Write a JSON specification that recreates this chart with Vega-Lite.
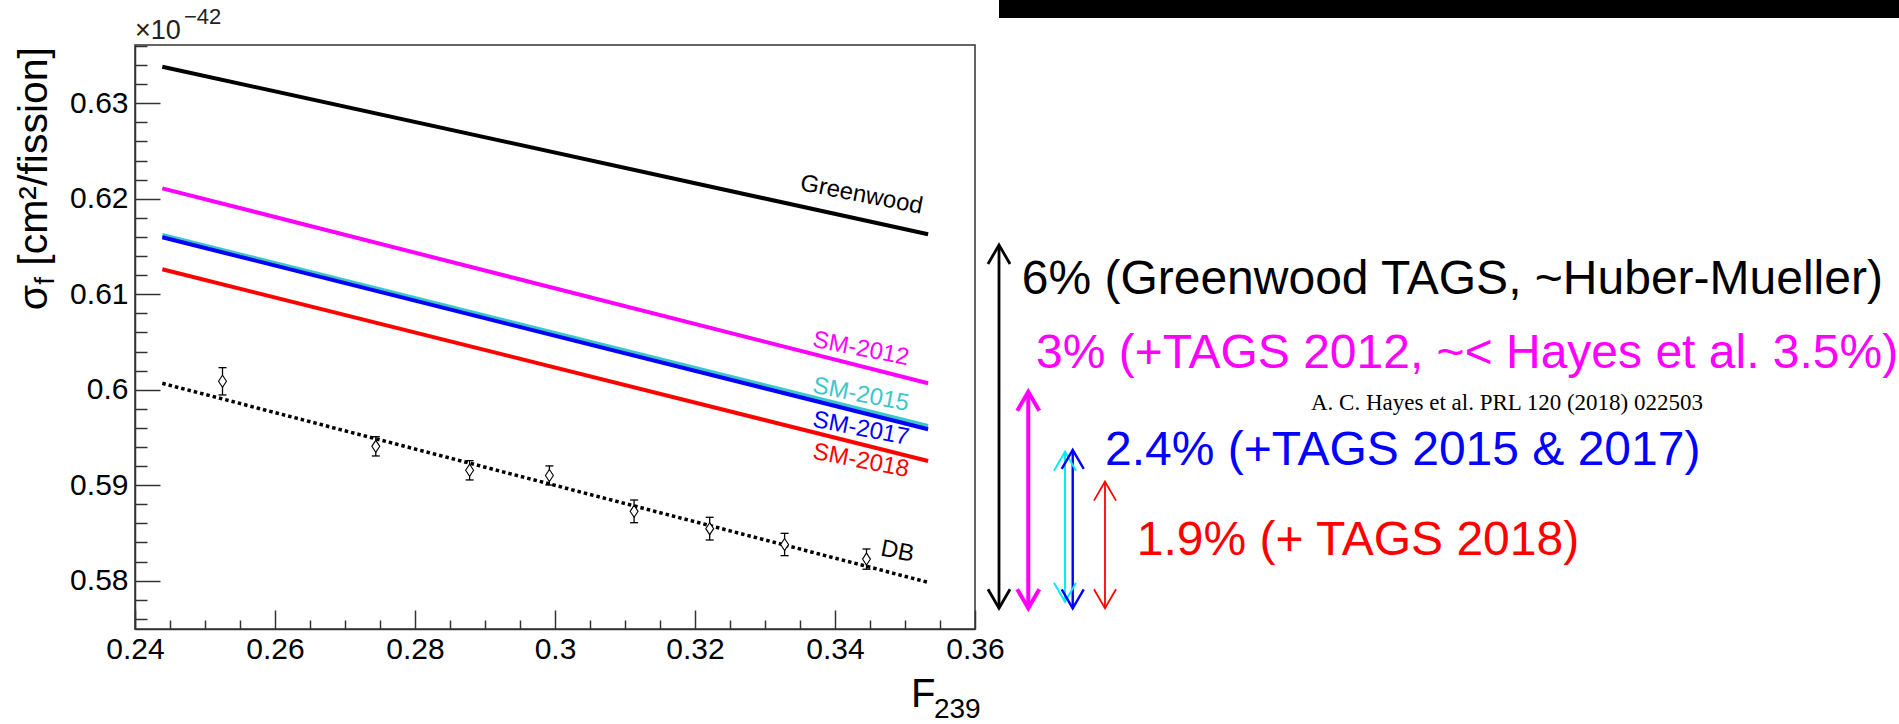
{
  "$schema": "https://vega.github.io/schema/vega-lite/v6.json",
  "width": 840,
  "height": 584,
  "autosize": {"type": "none"},
  "padding": {"left": 135, "top": 45, "right": 924, "bottom": 95},
  "background": "white",
  "config": {
    "view": {"stroke": "#333333", "strokeWidth": 1.5},
    "font": "Liberation Sans"
  },
  "datasets": {
    "curves": [
      {"model": "Greenwood", "F239": 0.2439, "sigma": 0.63383},
      {"model": "Greenwood", "F239": 0.3533, "sigma": 0.61628},
      {"model": "SM-2012", "F239": 0.2439, "sigma": 0.62109},
      {"model": "SM-2012", "F239": 0.3533, "sigma": 0.60067},
      {"model": "SM-2015", "F239": 0.2439, "sigma": 0.61620},
      {"model": "SM-2015", "F239": 0.3533, "sigma": 0.59620},
      {"model": "SM-2017", "F239": 0.2439, "sigma": 0.61596},
      {"model": "SM-2017", "F239": 0.3533, "sigma": 0.59586},
      {"model": "SM-2018", "F239": 0.2439, "sigma": 0.61261},
      {"model": "SM-2018", "F239": 0.3533, "sigma": 0.59254}
    ],
    "db": [
      {"F239": 0.2439, "sigma": 0.60067},
      {"F239": 0.3533, "sigma": 0.57983}
    ],
    "points": [
      {"F239": 0.2525, "sigma": 0.60088, "lo": 0.59945, "hi": 0.60231},
      {"F239": 0.2744, "sigma": 0.59407, "lo": 0.59306, "hi": 0.59508},
      {"F239": 0.2878, "sigma": 0.59156, "lo": 0.59055, "hi": 0.59257},
      {"F239": 0.2992, "sigma": 0.59102, "lo": 0.59002, "hi": 0.59202},
      {"F239": 0.3113, "sigma": 0.58726, "lo": 0.58607, "hi": 0.58845},
      {"F239": 0.3221, "sigma": 0.58545, "lo": 0.58426, "hi": 0.58664},
      {"F239": 0.3328, "sigma": 0.58379, "lo": 0.58262, "hi": 0.58496},
      {"F239": 0.3445, "sigma": 0.58226, "lo": 0.58120, "hi": 0.58332}
    ],
    "labels": [
      {"label": "Greenwood", "x": 0.34379, "y": 0.62039},
      {"label": "SM-2012", "x": 0.34371, "y": 0.60426},
      {"label": "SM-2015", "x": 0.34371, "y": 0.59945},
      {"label": "SM-2017", "x": 0.34371, "y": 0.59589},
      {"label": "SM-2018", "x": 0.34371, "y": 0.59254},
      {"label": "DB", "x": 0.34893, "y": 0.58304}
    ],
    "arrows": [
      {"arrow": "Greenwood", "x": 0.36343, "top": 0.61516, "bottom": 0.57711},
      {"arrow": "SM-2012", "x": 0.36761, "top": 0.59979, "bottom": 0.57711},
      {"arrow": "SM-2015", "x": 0.37286, "top": 0.59351, "bottom": 0.57780},
      {"arrow": "SM-2017", "x": 0.37396, "top": 0.59369, "bottom": 0.57711},
      {"arrow": "SM-2018", "x": 0.37857, "top": 0.59037, "bottom": 0.57711}
    ],
    "notes": [
      {"group": "Greenwood", "note": "6% (Greenwood TAGS, ~Huber-Mueller)", "x": 0.36667, "y": 0.6100},
      {"group": "SM-2012", "note": "3% (+TAGS 2012, ~< Hayes et al. 3.5%)", "x": 0.36871, "y": 0.60224},
      {"group": "SM-2017", "note": "2.4% (+TAGS 2015 & 2017)", "x": 0.37857, "y": 0.59212},
      {"group": "SM-2018", "note": "1.9% (+ TAGS 2018)", "x": 0.3831, "y": 0.58269}
    ],
    "texts": [
      {"id": "exp_base", "text": "×10", "x": 0.24, "y": 0.6367},
      {"id": "exp_pow", "text": "−42", "x": 0.24700, "y": 0.63830},
      {"id": "xtitle", "text": "F", "x": 0.35086, "y": 0.56680},
      {"id": "xsub", "text": "239", "x": 0.35414, "y": 0.56560},
      {"id": "ytitle", "text": "[cm²/fission]", "x": 0.22739, "y": 0.63589},
      {"id": "ysigma", "text": "σ", "x": 0.22739, "y": 0.61097},
      {"id": "ysub", "text": "f", "x": 0.22843, "y": 0.61180},
      {"id": "cite", "text": "A. C. Hayes et al. PRL 120 (2018) 022503", "x": 0.408, "y": 0.59788}
    ],
    "bar": [
      {"x": 0.36343, "x2": 0.5, "y": 0.63893, "y2": 0.645}
    ]
  },
  "resolve": {
    "scale": {"color": "independent", "strokeWidth": "independent"},
    "axis": {"x": "independent", "y": "independent"}
  },
  "layer": [
    {
      "data": {"name": "curves"},
      "mark": {"type": "line", "strokeWidth": 4},
      "encoding": {
        "x": {
          "field": "F239", "type": "quantitative",
          "scale": {"domain": [0.24, 0.36], "nice": false, "zero": false},
          "axis": {
            "orient": "bottom",
            "title": null,
            "grid": false,
            "values": [0.24, 0.26, 0.28, 0.3, 0.32, 0.34, 0.36],
            "format": "~g",
            "tickSize": -19,
            "labelPadding": 24,
            "labelFont": "Liberation Sans",
            "labelFontSize": 30,
            "labelColor": "black",
            "labelFlush": false,
            "labelOverlap": false,
            "labelBound": false,
            "tickColor": "#333333",
            "tickWidth": 1.5,
            "domainColor": "#333333",
            "domainWidth": 1.5
          }
        },
        "y": {
          "field": "sigma", "type": "quantitative",
          "scale": {"domain": [0.57494, 0.6361], "nice": false, "zero": false},
          "axis": {
            "orient": "left",
            "title": null,
            "grid": false,
            "values": [0.58, 0.59, 0.6, 0.61, 0.62, 0.63],
            "format": "~g",
            "tickSize": -25,
            "labelPadding": 32,
            "labelFont": "Liberation Sans",
            "labelFontSize": 30,
            "labelColor": "black",
            "labelFlush": false,
            "labelOverlap": false,
            "labelBound": false,
            "tickColor": "#333333",
            "tickWidth": 1.5,
            "domainColor": "#333333",
            "domainWidth": 1.5
          }
        },
        "color": {
          "field": "model", "type": "nominal", "legend": null,
          "scale": {"domain": ["Greenwood", "SM-2012", "SM-2015", "SM-2017", "SM-2018"], "range": ["#000000", "#ff00ff", "#3cc8c8", "#0000ff", "#ff0000"]}
        }
      }
    },
    {
      "data": {"name": "db"},
      "mark": {"type": "line", "strokeWidth": 3.5, "strokeDash": [3.5, 3], "color": "black"},
      "encoding": {
        "x": {
          "field": "F239", "type": "quantitative",
          "axis": {
            "orient": "bottom",
            "title": null,
            "grid": false,
            "labels": false,
            "domain": false,
            "values": [0.245,0.25,0.255,0.265,0.27,0.275,0.285,0.29,0.295,0.305,0.31,0.315,0.325,0.33,0.335,0.345,0.35,0.355],
            "tickSize": -9,
            "tickColor": "#333333",
            "tickWidth": 1.5
          }
        },
        "y": {
          "field": "sigma", "type": "quantitative",
          "axis": {
            "orient": "left",
            "title": null,
            "grid": false,
            "labels": false,
            "domain": false,
            "values": [0.576,0.578,0.582,0.584,0.586,0.588,0.592,0.594,0.596,0.598,0.602,0.604,0.606,0.608,0.612,0.614,0.616,0.618,0.622,0.624,0.626,0.628,0.632,0.634,0.636],
            "tickSize": -12,
            "tickColor": "#333333",
            "tickWidth": 1.5
          }
        }
      }
    },
    {
      "data": {"name": "points"},
      "mark": {"type": "rule", "color": "black", "strokeWidth": 1.3},
      "encoding": {
        "x": {"field": "F239", "type": "quantitative", "axis": null},
        "y": {"field": "lo", "type": "quantitative", "axis": null},
        "y2": {"field": "hi"}
      }
    },
    {
      "data": {"name": "points"},
      "mark": {"type": "tick", "orient": "horizontal", "color": "black", "size": 8, "thickness": 1.3, "opacity": 1},
      "encoding": {
        "x": {"field": "F239", "type": "quantitative", "axis": null},
        "y": {"field": "lo", "type": "quantitative", "axis": null}
      }
    },
    {
      "data": {"name": "points"},
      "mark": {"type": "tick", "orient": "horizontal", "color": "black", "size": 8, "thickness": 1.3, "opacity": 1},
      "encoding": {
        "x": {"field": "F239", "type": "quantitative", "axis": null},
        "y": {"field": "hi", "type": "quantitative", "axis": null}
      }
    },
    {
      "data": {"name": "points"},
      "mark": {"type": "point", "shape": "M0,-1L0.66,0L0,1L-0.66,0Z", "size": 144, "fill": "white", "stroke": "black", "strokeWidth": 1.1, "opacity": 1},
      "encoding": {
        "x": {"field": "F239", "type": "quantitative", "axis": null},
        "y": {"field": "sigma", "type": "quantitative", "axis": null}
      }
    },
    {
      "data": {"name": "labels"},
      "mark": {"type": "text", "angle": 11, "fontSize": 24, "font": "Liberation Sans", "align": "center", "baseline": "middle"},
      "encoding": {
        "x": {"field": "x", "type": "quantitative", "axis": null},
        "y": {"field": "y", "type": "quantitative", "axis": null},
        "text": {"field": "label"},
        "color": {
          "field": "label", "type": "nominal", "legend": null,
          "scale": {"domain": ["Greenwood", "SM-2012", "SM-2015", "SM-2017", "SM-2018", "DB"], "range": ["#000000", "#ff00ff", "#3cc8c8", "#0000ff", "#ff0000", "#000000"]}
        }
      }
    },
    {
      "data": {"name": "arrows"},
      "mark": {"type": "rule"},
      "encoding": {
        "x": {"field": "x", "type": "quantitative", "axis": null},
        "y": {"field": "bottom", "type": "quantitative", "axis": null},
        "y2": {"field": "top"},
        "color": {
          "field": "arrow", "type": "nominal", "legend": null,
          "scale": {"domain": ["Greenwood", "SM-2012", "SM-2015", "SM-2017", "SM-2018"], "range": ["#000000", "#ff00ff", "#00eeee", "#0000ff", "#ff0000"]}
        },
        "strokeWidth": {
          "field": "arrow", "type": "nominal", "legend": null,
          "scale": {"type": "ordinal", "domain": ["Greenwood", "SM-2012", "SM-2015", "SM-2017", "SM-2018"], "range": [2.8, 4, 2, 2.4, 1.8]}
        }
      }
    },
    {
      "data": {"name": "arrows"},
      "mark": {"type": "point", "shape": "M-0.58,1L0,0L0.58,1", "size": 1444, "filled": false, "opacity": 1},
      "encoding": {
        "x": {"field": "x", "type": "quantitative", "axis": null},
        "y": {"field": "top", "type": "quantitative", "axis": null},
        "color": {
          "field": "arrow", "type": "nominal", "legend": null,
          "scale": {"domain": ["Greenwood", "SM-2012", "SM-2015", "SM-2017", "SM-2018"], "range": ["#000000", "#ff00ff", "#00eeee", "#0000ff", "#ff0000"]}
        },
        "strokeWidth": {
          "field": "arrow", "type": "nominal", "legend": null,
          "scale": {"type": "ordinal", "domain": ["Greenwood", "SM-2012", "SM-2015", "SM-2017", "SM-2018"], "range": [2.8, 4, 2, 2.4, 1.8]}
        }
      }
    },
    {
      "data": {"name": "arrows"},
      "mark": {"type": "point", "shape": "M-0.58,-1L0,0L0.58,-1", "size": 1444, "filled": false, "opacity": 1},
      "encoding": {
        "x": {"field": "x", "type": "quantitative", "axis": null},
        "y": {"field": "bottom", "type": "quantitative", "axis": null},
        "color": {
          "field": "arrow", "type": "nominal", "legend": null,
          "scale": {"domain": ["Greenwood", "SM-2012", "SM-2015", "SM-2017", "SM-2018"], "range": ["#000000", "#ff00ff", "#00eeee", "#0000ff", "#ff0000"]}
        },
        "strokeWidth": {
          "field": "arrow", "type": "nominal", "legend": null,
          "scale": {"type": "ordinal", "domain": ["Greenwood", "SM-2012", "SM-2015", "SM-2017", "SM-2018"], "range": [2.8, 4, 2, 2.4, 1.8]}
        }
      }
    },
    {
      "data": {"name": "notes"},
      "mark": {"type": "text", "fontSize": 48, "font": "Liberation Sans", "align": "left", "baseline": "alphabetic"},
      "encoding": {
        "x": {"field": "x", "type": "quantitative", "axis": null},
        "y": {"field": "y", "type": "quantitative", "axis": null},
        "text": {"field": "note"},
        "color": {
          "field": "group", "type": "nominal", "legend": null,
          "scale": {"domain": ["Greenwood", "SM-2012", "SM-2017", "SM-2018"], "range": ["#000000", "#ff00ff", "#0000ff", "#ff0000"]}
        }
      }
    },
    {
      "data": {"name": "texts"},
      "transform": [{"filter": "datum.id === 'cite'"}],
      "mark": {"type": "text", "fontSize": 23, "font": "Liberation Serif", "align": "left", "baseline": "alphabetic", "color": "black"},
      "encoding": {
        "x": {"field": "x", "type": "quantitative", "axis": null},
        "y": {"field": "y", "type": "quantitative", "axis": null},
        "text": {"field": "text"}
      }
    },
    {
      "data": {"name": "texts"},
      "transform": [{"filter": "datum.id === 'exp_base'"}],
      "mark": {"type": "text", "fontSize": 27, "font": "Liberation Sans", "align": "left", "baseline": "alphabetic", "color": "#222222"},
      "encoding": {
        "x": {"field": "x", "type": "quantitative", "axis": null},
        "y": {"field": "y", "type": "quantitative", "axis": null},
        "text": {"field": "text"}
      }
    },
    {
      "data": {"name": "texts"},
      "transform": [{"filter": "datum.id === 'exp_pow'"}],
      "mark": {"type": "text", "fontSize": 22, "font": "Liberation Sans", "align": "left", "baseline": "alphabetic", "color": "#222222"},
      "encoding": {
        "x": {"field": "x", "type": "quantitative", "axis": null},
        "y": {"field": "y", "type": "quantitative", "axis": null},
        "text": {"field": "text"}
      }
    },
    {
      "data": {"name": "texts"},
      "transform": [{"filter": "datum.id === 'xtitle'"}],
      "mark": {"type": "text", "fontSize": 40, "font": "Liberation Sans", "align": "left", "baseline": "alphabetic", "color": "black"},
      "encoding": {
        "x": {"field": "x", "type": "quantitative", "axis": null},
        "y": {"field": "y", "type": "quantitative", "axis": null},
        "text": {"field": "text"}
      }
    },
    {
      "data": {"name": "texts"},
      "transform": [{"filter": "datum.id === 'xsub'"}],
      "mark": {"type": "text", "fontSize": 28, "font": "Liberation Sans", "align": "left", "baseline": "alphabetic", "color": "black"},
      "encoding": {
        "x": {"field": "x", "type": "quantitative", "axis": null},
        "y": {"field": "y", "type": "quantitative", "axis": null},
        "text": {"field": "text"}
      }
    },
    {
      "data": {"name": "texts"},
      "transform": [{"filter": "datum.id === 'ytitle'"}],
      "mark": {"type": "text", "fontSize": 41, "font": "Liberation Sans", "angle": 270, "align": "right", "baseline": "alphabetic", "color": "black"},
      "encoding": {
        "x": {"field": "x", "type": "quantitative", "axis": null},
        "y": {"field": "y", "type": "quantitative", "axis": null},
        "text": {"field": "text"}
      }
    },
    {
      "data": {"name": "texts"},
      "transform": [{"filter": "datum.id === 'ysigma'"}],
      "mark": {"type": "text", "fontSize": 41, "font": "Liberation Sans", "angle": 270, "align": "right", "baseline": "alphabetic", "color": "black"},
      "encoding": {
        "x": {"field": "x", "type": "quantitative", "axis": null},
        "y": {"field": "y", "type": "quantitative", "axis": null},
        "text": {"field": "text"}
      }
    },
    {
      "data": {"name": "texts"},
      "transform": [{"filter": "datum.id === 'ysub'"}],
      "mark": {"type": "text", "fontSize": 28, "font": "Liberation Sans", "angle": 270, "align": "right", "baseline": "alphabetic", "color": "black"},
      "encoding": {
        "x": {"field": "x", "type": "quantitative", "axis": null},
        "y": {"field": "y", "type": "quantitative", "axis": null},
        "text": {"field": "text"}
      }
    },
    {
      "data": {"name": "bar"},
      "mark": {"type": "rect", "color": "black"},
      "encoding": {
        "x": {"field": "x", "type": "quantitative", "axis": null},
        "x2": {"field": "x2"},
        "y": {"field": "y", "type": "quantitative", "axis": null},
        "y2": {"field": "y2"}
      }
    }
  ]
}
